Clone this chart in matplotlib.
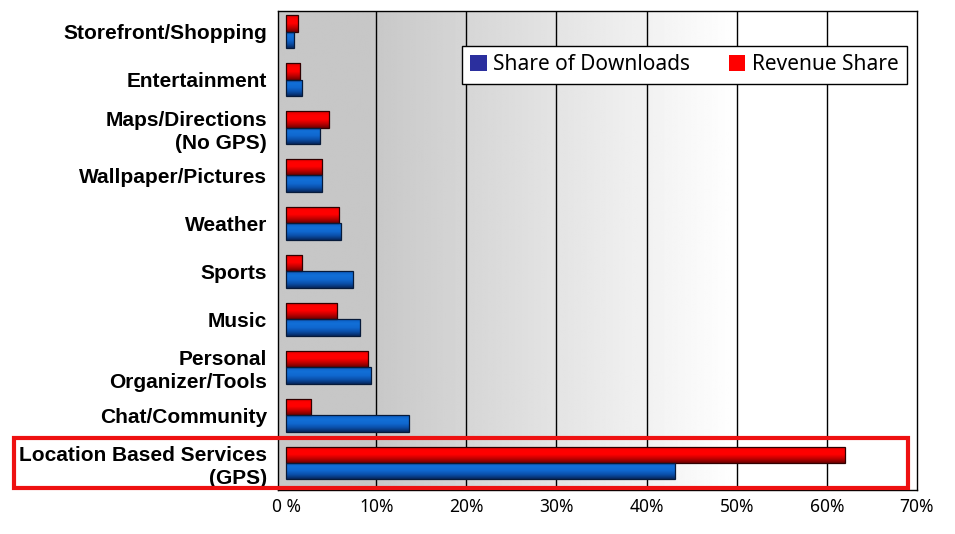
import matplotlib
matplotlib.use("Agg")
import matplotlib.pyplot as plt
import numpy as np
from matplotlib.patches import Rectangle, Patch
from matplotlib.colors import LinearSegmentedColormap
from matplotlib.transforms import blended_transform_factory

categories = [
    "Storefront/Shopping",
    "Entertainment",
    "Maps/Directions\n(No GPS)",
    "Wallpaper/Pictures",
    "Weather",
    "Sports",
    "Music",
    "Personal\nOrganizer/Tools",
    "Chat/Community",
    "Location Based Services\n(GPS)",
]
revenue_share = [1.3, 1.6, 4.8, 4.0, 5.9, 1.8, 5.7, 9.1, 2.8, 62.0]
download_share = [0.9, 1.8, 3.8, 4.0, 6.1, 7.4, 8.2, 9.4, 13.6, 43.1]
xticks = [0, 10, 20, 30, 40, 50, 60, 70]
xtick_labels = ["0 %", "10%", "20%", "30%", "40%", "50%", "60%", "70%"]
highlight_idx = 9

LABEL_FONT = "Liberation Sans"
FONT = "Noto Sans"
bar_h = 0.34

fig = plt.figure(figsize=(9.55, 5.34), dpi=100)
ax = fig.add_axes([0.2911, 0.0824, 0.6691, 0.897])

xlim = (-0.89, 70)
ylim = (9.56, -0.43)

# grey -> white background
grad = np.clip(0.785 + (np.linspace(xlim[0], xlim[1], 400) - 10) / 40 * 0.215, 0.78, 1.0)
grad = np.vstack([grad, grad])
ax.imshow(grad, cmap="gray", vmin=0, vmax=1, extent=[xlim[0], xlim[1], ylim[0], ylim[1]],
          aspect="auto", zorder=0, interpolation="bilinear")

for x in xticks[1:-1]:
    ax.axvline(x, color="black", lw=1.0, zorder=1)

y = np.arange(len(categories))
red_bars = ax.barh(y - bar_h / 2, revenue_share, height=bar_h, facecolor="none",
                   edgecolor="#300000", lw=0.9, zorder=3)
blue_bars = ax.barh(y + bar_h / 2, download_share, height=bar_h, facecolor="none",
                    edgecolor="#061a3a", lw=0.9, zorder=3)

red_cmap = LinearSegmentedColormap.from_list("r", ["#e00000", "#ff0000", "#ff0000", "#c00000", "#700000"])
blue_cmap = LinearSegmentedColormap.from_list("b", ["#0c5cc0", "#1270d8", "#1068d0", "#0a4ea8", "#06285e"])

# shaded fill for each bar, clipped to the bar patch
shade = np.linspace(0, 1, 50).reshape(-1, 1)
for bars, cmap in [(red_bars, red_cmap), (blue_bars, blue_cmap)]:
    for p in bars.patches:
        x0, y0, w, h = p.get_x(), p.get_y(), p.get_width(), p.get_height()
        im = ax.imshow(shade, cmap=cmap, vmin=0, vmax=1, extent=[x0, x0 + w, y0 + h, y0],
                       aspect="auto", zorder=2, interpolation="bilinear")
        im.set_clip_path(p)

ax.set_xlim(*xlim)
ax.set_ylim(*ylim)

ax.set_yticks(y)
ax.set_yticklabels(categories, fontsize=15, fontweight="bold", family=LABEL_FONT, linespacing=1.28)
ax.set_xticks(xticks)
ax.set_xticklabels(xtick_labels, fontsize=12.5, family=FONT)
ax.tick_params(axis="y", length=0, pad=8)
ax.tick_params(axis="x", length=0, pad=6)
for s in ax.spines.values():
    s.set_color("black")
    s.set_linewidth(1.0)

handles = [Patch(facecolor="#2b2f9e", edgecolor="none", label="Share of Downloads"),
           Patch(facecolor="#ff0000", edgecolor="none", label="Revenue Share")]
leg = ax.legend(handles=handles, ncol=2, loc="lower left",
                bbox_to_anchor=(0.288, 0.848, 0.696, 0.085), mode="expand",
                prop={"family": FONT, "size": 15}, handlelength=0.8, handleheight=0.8,
                handletextpad=0.3, columnspacing=1.5, borderaxespad=0,
                fancybox=False, framealpha=1, edgecolor="black")
leg.get_frame().set_linewidth(1.0)
leg.set_zorder(5)

# red box around the highlighted category
tr = blended_transform_factory(fig.transFigure, ax.transData)
box = Rectangle((14 / 955, highlight_idx - 0.52), (908 - 14) / 955, 1.04, transform=tr,
                fill=False, edgecolor="#ee1111", lw=3, clip_on=False, zorder=6)
fig.add_artist(box)

fig.savefig("out.png", dpi=100)
